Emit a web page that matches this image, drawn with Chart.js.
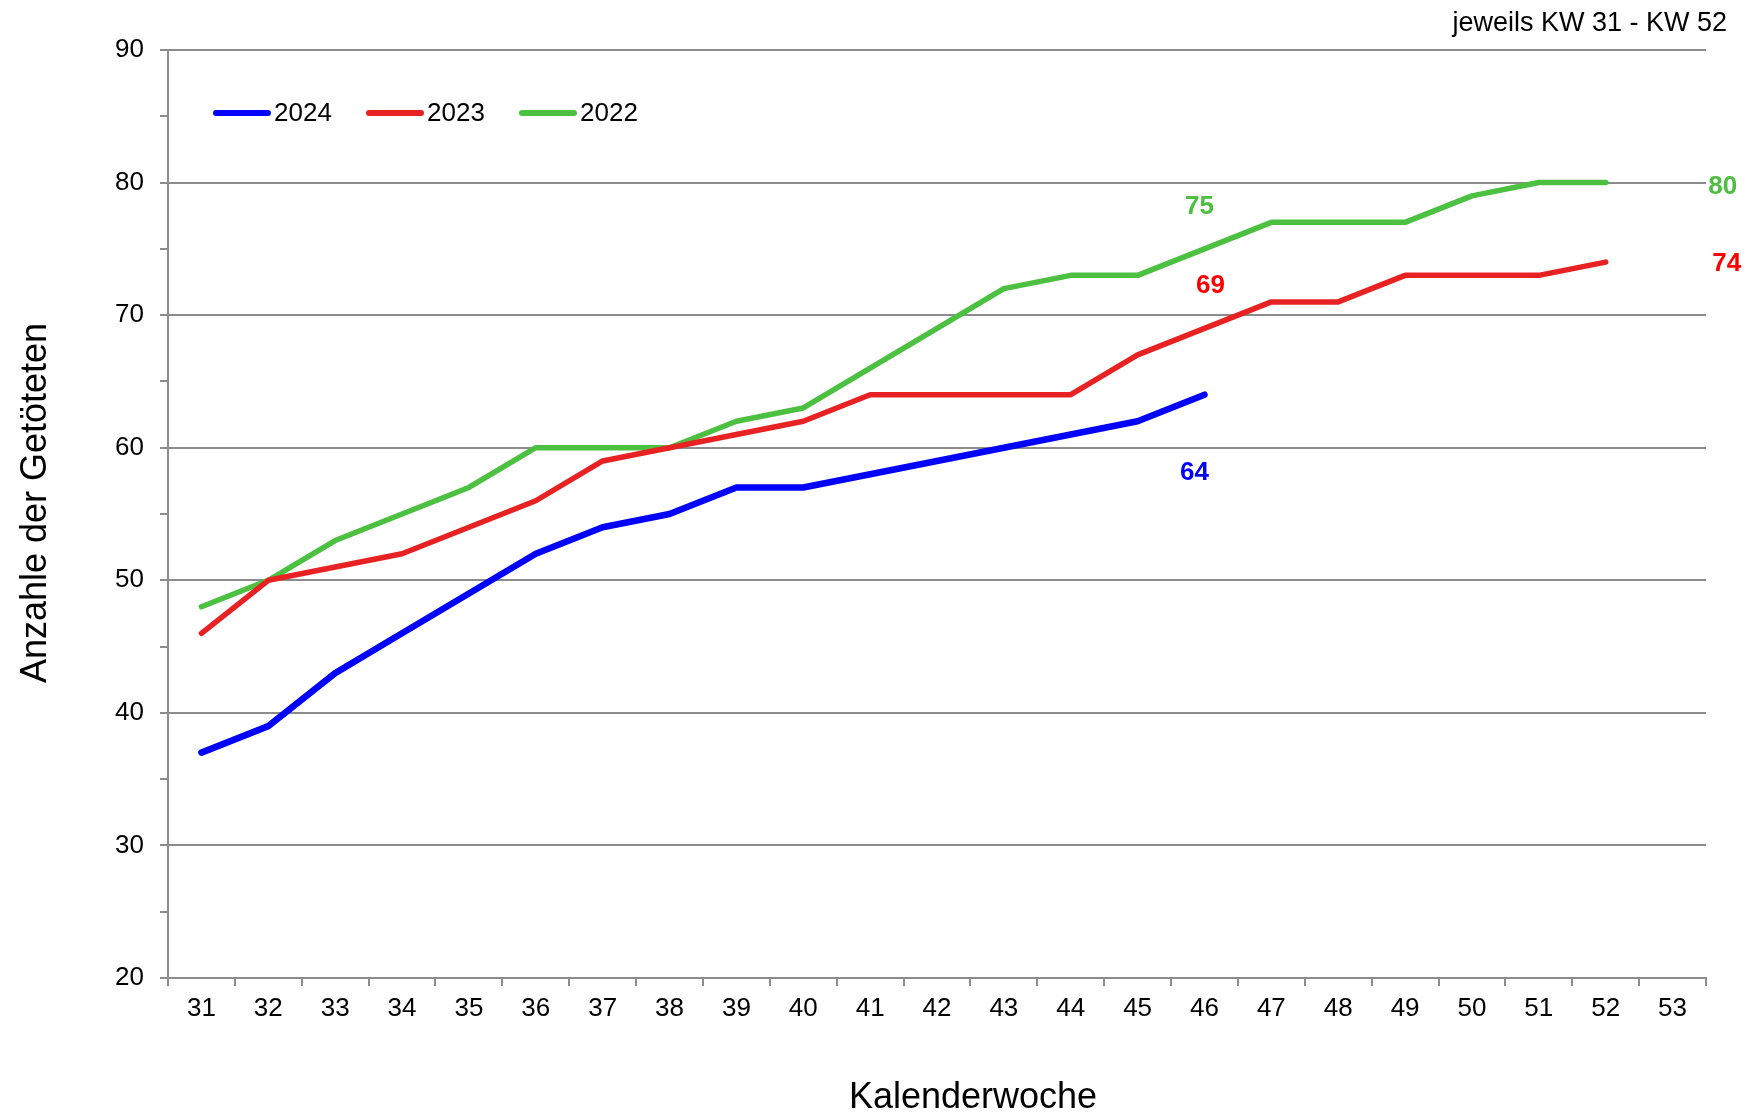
<!DOCTYPE html>
<html>
<head>
<meta charset="utf-8">
<script src="https://cdn.jsdelivr.net/npm/chart.js@4"></script>
<style>
html,body{margin:0;padding:0;background:#fff;}
#wrap{width:1753px;height:1120px;}
</style>
</head>
<body>
<div id="wrap"><canvas id="c" width="1753" height="1120"></canvas></div>
<script>
// ---- data ----
const weeks = ['31','32','33','34','35','36','37','38','39','40','41','42','43','44','45','46','47','48','49','50','51','52','53'];
const values2024 = [37,39,43,46,49,52,54,55,57,57,58,59,60,61,62,64];
const values2023 = [46,50,51,52,54,56,59,60,61,62,64,64,64,64,67,69,71,71,73,73,73,74];
const values2022 = [48,50,53,55,57,60,60,60,62,63,66,69,72,73,73,75,77,77,77,79,80,80];
const seriesNames = ['2024','2023','2022'];
const noteText = 'jeweils KW 31 - KW 52';
const xTitle = 'Kalenderwoche';
const yTitle = 'Anzahle der Getöteten';

const FONT = "'Liberation Sans', Arial, sans-serif";
const GRID = '#8c8c8c';
const lineColors = ['#0000ff', '#e82222', '#4cc040'];
const lineWidths = [6.5, 5.5, 5.5];
const labelColors = ['#0000ff', '#ff0000', '#4cbf3f'];

// value labels: dataset index, point index, pixel offsets
const valueLabels = [
  {ds:0, idx:15, dx:-10, dy:78},
  {ds:1, idx:15, dx:6, dy:-43},
  {ds:2, idx:15, dx:-5, dy:-42},
  {ds:2, idx:21, dx:117, dy:4},
  {ds:1, idx:21, dx:121, dy:2}
];

const textPlugin = {
  id: 'texts',
  afterDraw(chart) {
    const ctx = chart.ctx;
    ctx.save();
    // note top-right
    ctx.fillStyle = '#000';
    ctx.font = '27px ' + FONT;
    ctx.textAlign = 'right';
    ctx.textBaseline = 'middle';
    ctx.fillText(noteText, 1727, 24);
    // x title
    ctx.font = '36px ' + FONT;
    ctx.textAlign = 'center';
    ctx.fillText(xTitle, 973, 1098);
    // y title
    ctx.save();
    ctx.translate(36, 503);
    ctx.rotate(-Math.PI / 2);
    ctx.fillText(yTitle, 0, 0);
    ctx.restore();
    // legend
    const legendX = [216, 369, 522];
    ctx.font = '26px ' + FONT;
    ctx.textAlign = 'left';
    ctx.lineCap = 'round';
    ctx.lineWidth = 6;
    chart.data.datasets.forEach((ds, i) => {
      const x = legendX[i], y = 113;
      ctx.strokeStyle = ds.borderColor;
      ctx.beginPath();
      ctx.moveTo(x, y);
      ctx.lineTo(x + 52, y);
      ctx.stroke();
      ctx.fillStyle = '#000';
      ctx.fillText(ds.label, x + 58, y + 1);
    });
    // value labels
    ctx.font = 'bold 26px ' + FONT;
    ctx.textAlign = 'center';
    valueLabels.forEach(l => {
      const meta = chart.getDatasetMeta(l.ds);
      const pt = meta.data[l.idx];
      const v = chart.data.datasets[l.ds].data[l.idx];
      ctx.fillStyle = labelColors[l.ds];
      ctx.fillText(String(v), pt.x + l.dx, pt.y + l.dy);
    });
    ctx.restore();
  }
};

Chart.defaults.font.family = FONT;
Chart.defaults.color = '#000';

new Chart(document.getElementById('c'), {
  type: 'line',
  data: {
    labels: weeks,
    datasets: [values2024, values2023, values2022].map((d, i) => ({
      label: seriesNames[i],
      data: d,
      borderColor: lineColors[i],
      backgroundColor: lineColors[i],
      borderWidth: lineWidths[i],
      pointRadius: 0,
      tension: 0,
      borderCapStyle: 'round',
      borderJoinStyle: 'round',
      fill: false
    }))
  },
  options: {
    responsive: false,
    devicePixelRatio: 1,
    animation: false,
    layout: {padding: {left: 0, right: 47, top: 50, bottom: 0}},
    plugins: {legend: {display: false}, tooltip: {enabled: false}},
    scales: {
      x: {
        type: 'category',
        offset: true,
        grid: {
          offset: true,
          drawOnChartArea: false,
          color: GRID,
          tickColor: GRID,
          tickLength: 8,
          lineWidth: 2
        },
        border: {color: GRID, width: 2},
        ticks: {font: {size: 26}, padding: 7, maxRotation: 0, autoSkip: false},
        afterFit(s) { s.height = 142; }
      },
      y: {
        min: 20,
        max: 90,
        grid: {
          color: ctx => (ctx.tick && ctx.tick.value % 10 === 0) ? GRID : 'rgba(0,0,0,0)',
          tickColor: GRID,
          tickLength: 8,
          lineWidth: 2
        },
        border: {color: GRID, width: 2},
        ticks: {
          stepSize: 5,
          font: {size: 26},
          padding: 16,
          callback: v => (v % 10 === 0 ? String(v) : '')
        },
        afterFit(s) { s.width = 168; }
      }
    }
  },
  plugins: [textPlugin]
});
</script>
</body>
</html>
